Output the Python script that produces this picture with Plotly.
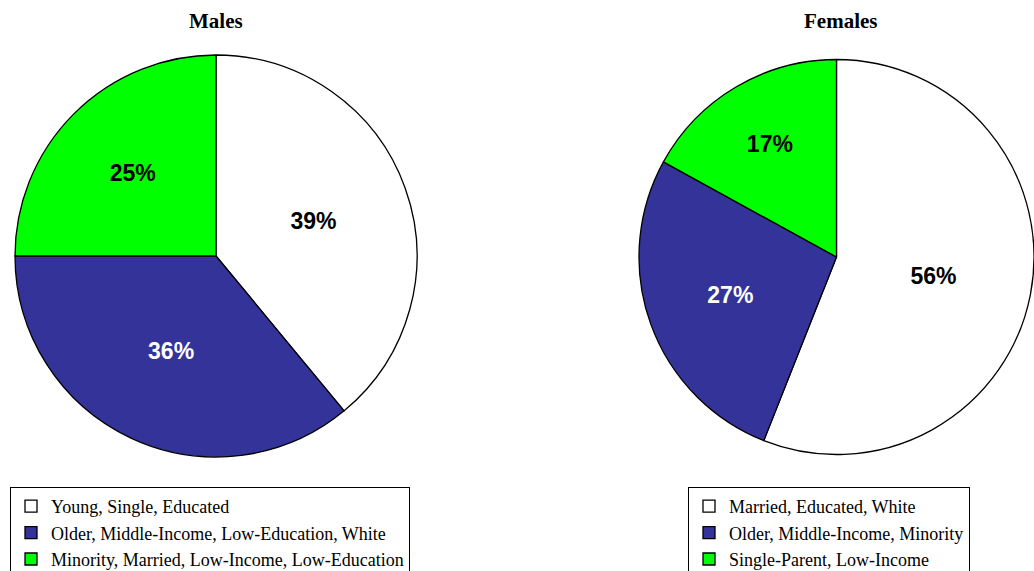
import plotly.graph_objects as go

male_labels = ["Young, Single, Educated",
               "Older, Middle-Income, Low-Education, White",
               "Minority, Married, Low-Income, Low-Education"]
male_values = [39, 36, 25]

female_labels = ["Married, Educated, White",
                 "Older, Middle-Income, Minority",
                 "Single-Parent, Low-Income"]
female_values = [56, 27, 17]

titles = ["Males", "Females"]

slice_colors = ["#FFFFFF", "#333399", "#00FF00"]
text_colors = ["black", "white", "black"]

W, H = 1034, 571

fig = go.Figure()

common = dict(
    sort=False, direction="clockwise", rotation=0,
    marker=dict(colors=slice_colors, line=dict(color="black", width=1.3)),
    texttemplate="%{percent:.0%}",
    textposition="inside",
    insidetextorientation="horizontal",
    insidetextfont=dict(family="Liberation Sans, Arial", size=23, color=text_colors,
                        weight="bold"),
    hoverinfo="label+percent",
)

fig.add_trace(go.Pie(
    labels=male_labels, values=male_values,
    domain=dict(x=[15 / W, 417 / W], y=[(H - 457) / H, (H - 55) / H]),
    legend="legend", **common))

fig.add_trace(go.Pie(
    labels=female_labels, values=female_values,
    domain=dict(x=[639 / W, 1.0], y=[(H - 458) / H, (H - 56) / H]),
    legend="legend2", **common))

legend_style = dict(
    bgcolor="white", bordercolor="black", borderwidth=1,
    font=dict(family="Liberation Serif, Times New Roman", size=18, color="black"),
    yanchor="top", xanchor="left", traceorder="normal",
    itemclick=False, itemdoubleclick=False,
)

title_font = dict(family="Liberation Serif, Times New Roman", size=21, color="black")

fig.update_layout(
    width=W, height=H,
    margin=dict(l=0, r=0, t=0, b=0, autoexpand=False),
    paper_bgcolor="white", plot_bgcolor="white",
    showlegend=True,
    legend=dict(x=10 / W, y=(H - 487) / H, **legend_style),
    legend2=dict(x=688 / W, y=(H - 487) / H, **legend_style),
    annotations=[
        dict(text="<b>%s</b>" % titles[0], x=216 / W, y=(H - 21) / H,
             xref="paper", yref="paper", showarrow=False,
             xanchor="center", yanchor="middle", font=title_font),
        dict(text="<b>%s</b>" % titles[1], x=840 / W, y=(H - 21) / H,
             xref="paper", yref="paper", showarrow=False,
             xanchor="center", yanchor="middle", font=title_font),
    ],
)

fig.write_html("out.html")
